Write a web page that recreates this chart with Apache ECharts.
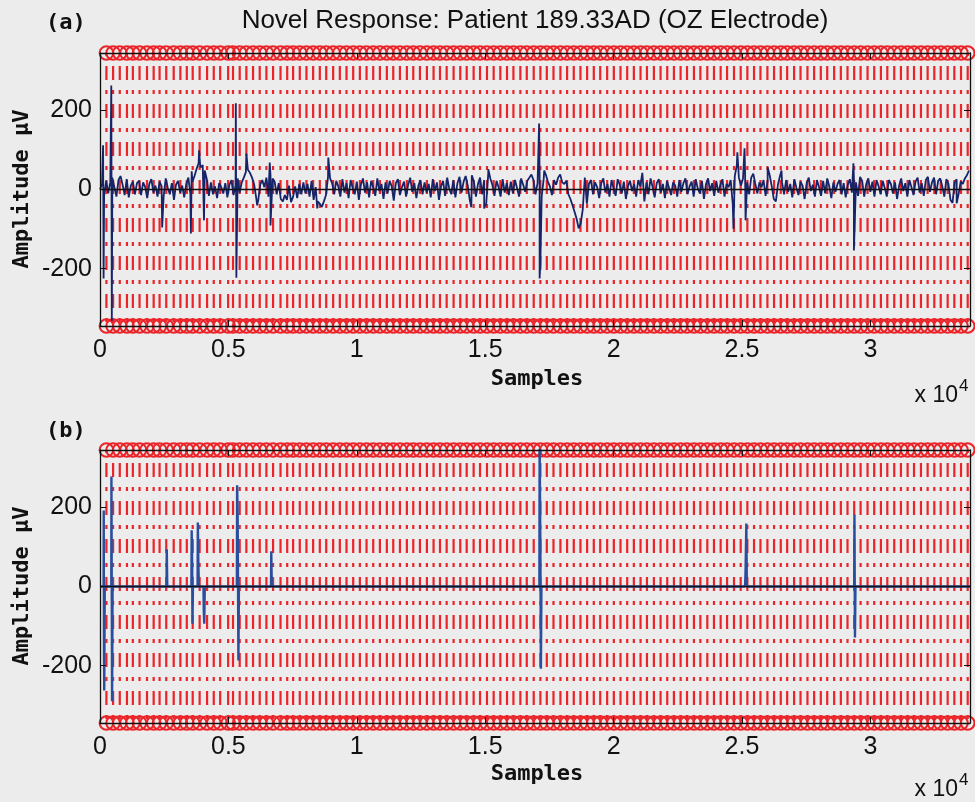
<!DOCTYPE html>
<html>
<head>
<meta charset="utf-8">
<script src="https://cdn.jsdelivr.net/npm/echarts@6/dist/echarts.min.js"></script>
<style>
  html, body { margin: 0; padding: 0; background: #ececec; }
  #chart { width: 975px; height: 802px; }
</style>
</head>
<body>
<div id="chart"></div>
<script>
// ---- data -----------------------------------------------------------------
// EEG trace (OZ), one value every SAMPLE_STEP samples, in microvolts
const SAMPLE_STEP = 80;
const eegBaseline = [
  0, 14, -16, 22, -10, 18, 30, 6, -18, 24, 34, 12, -14, 26, -20, 10, 20, -12, 16, 22,
  -14, 18, 6, -22, 14, 26, -8, 10, -18, 20, 8, -16, 28, 4, -12, 16, -26, 12, 22, -8,
  10, -20, 14, 30, -12, 20, 34, 52, 66, 56, 62, 48, 26, -16, 18, -12, 8, -22, 16, 6,
  -10, 16, -20, 12, 24, -14, 10, 28, -8, 18, 30, 44, 50, 42, 30, 14, -20, -28, 12, 24,
  6, 30, -18, 36, 28, 20, -12, 16, -24, -30, -14, -26, 10, -32, -18, 8, -22, 14, -12, 18,
  -10, 14, -18, 22, -26, 6, -30, -36, -44, -30, -14, 32, 28, 16, -12, 22, 8, -18, 26, -8,
  16, -22, 24, 4, -12, 20, -26, 12, 28, -8, 18, -20, 22, 6, -16, 28, -4, 14, -24, 18,
  -10, 22, 8, -28, 16, 26, -14, 6, 20, -18, 12, 30, -6, 16, -22, 10, 24, -12, 18, -8,
  14, -20, 26, -4, 18, -26, 8, 22, -16, 30, 2, -12, 24, -20, 16, 32, -8, 20, 34, 10,
  -26, 36, 20, -18, 14, 30, -12, 24, -36, 40, 28, 12, -16, 22, 6, -18, 26, -8, 16, -14,
  20, -10, 24, 4, -18, 28, 12, -6, 22, 30, 38, 24, -12, 16, 30, -18, 28, 38, 20, 8,
  -14, 24, 12, 30, 38, 18, 14, 22, -12, -24, -40, -56, -74, -98, -86, -50, 30, -36, 14, 24,
  -12, 18, 6, -22, 16, 28, -8, 14, -18, 24, 4, -16, 26, 12, -10, 20, -24, 8, 22, -4,
  14, -18, 24, 8, 42, -30, 18, -12, 28, 6, -20, 16, 26, -8, 14, -22, 22, 4, -14, 18,
  10, -18, 24, -6, 16, 28, -12, 8, 20, -18, 26, 2, -10, 22, -24, 14, 28, -4, 16, -16,
  22, -8, 12, 26, -18, 14, 6, 24, -36, 34, 62, 30, 10, 28, 46, 18, -12, 30, 40, 14,
  -10, 18, 6, 24, -16, 22, 36, 8, -24, -30, 12, 34, 18, -12, 24, -6, 14, -20, 26, 4,
  -14, 20, 10, -24, 16, 30, -4, 12, -18, 24, 6, -16, 22, -10, 28, 8, -22, 18, -6, 14,
  24, -12, 16, -20, 12, 26, -8, 28, 18, -16, 32, 22, -18, 14, 28, -6, 20, -18, 24, 8,
  -12, 22, 4, -18, 24, 14, -10, 18, -24, 10, 28, -4, 16, -18, 24, 6, -14, 20, 30, -8,
  16, -16, 24, 32, -6, 18, 30, -12, 22, 28, 8, -18, 26, 14, -26, -34, 18, 26, -10, 20,
  14, 28, 36, 48
];

// sharp transients in the raw trace: [sample, microvolts]
const eegTransients = [
  [120, 112], [140, -225],
  [440, 263], [460, -332],
  [2420, -96],
  [3540, -111], [3570, 46],
  [3860, 99], [3900, 62],
  [4050, -78],
  [5290, 218], [5310, -223],
  [5700, 91],
  [6120, -40],
  [6610, 68], [6640, -91],
  [8460, -48],
  [8890, 81],
  [14460, -45],
  [14960, -48],
  [15120, 51],
  [17100, 167], [17120, -225], [17150, -185],
  [17300, 48],
  [17970, 35],
  [19000, -40],
  [24670, -99],
  [24820, 94],
  [25100, 104], [25140, -78],
  [26000, 56],
  [26340, -35],
  [26540, 48],
  [29340, 66], [29360, -154],
  [33360, -35]
];

// detected novel responses: [sample, microvolts]
const novelResponse = [
  [0, 0], [140, 0], [145, 192], [155, -170], [165, -263], [185, 0],
  [440, 0], [445, 278], [470, -290], [490, 0],
  [2590, 0], [2600, 94], [2620, 0],
  [3560, 0], [3570, 142], [3590, 46], [3600, -94], [3620, 0],
  [3800, 0], [3810, 162], [3830, 61], [3850, 0],
  [4030, 0], [4040, -56], [4060, -94], [4080, 0],
  [5330, 0], [5340, 256], [5360, 185], [5390, -187], [5410, 0],
  [6660, 0], [6670, 89], [6690, 0],
  [17110, 0], [17120, 360], [17150, 91], [17170, -208], [17190, 0],
  [25120, 0], [25140, 40], [25170, 159], [25190, 0],
  [29370, 0], [29380, 182], [29400, -129], [29420, 0],
  [33880, 0]
];

// stimulus event markers (sample index)
const eventSamples = [
  250, 510, 770, 1050, 1280, 1540, 1830, 2090, 2320, 2580, 2870, 3130, 3380, 3610, 3880,
  4170, 4430, 4680, 4990, 5180, 5440, 5700, 5960, 6220, 6480, 6740, 7030, 7290, 7520, 7780,
  8040, 8300, 8560, 8810, 9080, 9340, 9600, 9860, 10120, 10380, 10640, 10900, 11170, 11420, 11680,
  11950, 12200, 12460, 12730, 12990, 13240, 13500, 13770, 14030, 14280, 14550, 14800, 15070, 15330, 15590,
  15850, 16100, 16370, 16620, 16890, 17150, 17400, 17660, 17930, 18190, 18450, 18710, 18970, 19230, 19480,
  19750, 20010, 20270, 20530, 20790, 21050, 21300, 21570, 21830, 22090, 22350, 22610, 22860, 23130, 23380,
  23650, 23910, 24170, 24420, 24690, 24950, 25210, 25470, 25720, 25990, 26250, 26510, 26760, 27030, 27280,
  27550, 27810, 28070, 28320, 28590, 28850, 29110, 29370, 29620, 29890, 30150, 30410, 30660, 30930, 31190,
  31450, 31700, 31970, 32230, 32490, 32740, 33010, 33270, 33530, 33790
];

const xTicks = [0, 5000, 10000, 15000, 20000, 25000, 30000];
const yTicks = [-200, 0, 200];
const X_MAX = 33880;
const Y_LIM = 345;

// ---- build ----------------------------------------------------------------
const traceA = eegBaseline.map((v, i) => [i * SAMPLE_STEP, v])
  .concat(eegTransients)
  .sort((a, b) => a[0] - b[0]);

const RED = '#ea2429';
const AXIS = '#111';
const LABEL_FONT = 'Liberation Sans, Arial, sans-serif';
const MONO_FONT = 'DejaVu Sans Mono, monospace';

function makeAxes(gridIndex) {
  const common = {
    type: 'value', gridIndex,
    axisLine: { show: true, onZero: false, lineStyle: { color: AXIS, width: 1.3 } },
    splitLine: { show: false }, z: 10
  };
  const xs = [
    Object.assign({}, common, {
      min: 0, max: X_MAX, position: 'bottom',
      axisTick: { show: true, inside: true, length: 6, customValues: xTicks, lineStyle: { color: AXIS } },
      axisLabel: {
        show: true, customValues: xTicks, margin: 12,
        formatter: v => String(v / 10000),
        color: '#111', fontSize: 25, fontFamily: LABEL_FONT
      }
    }),
    Object.assign({}, common, {
      min: 0, max: X_MAX, position: 'top',
      axisTick: { show: true, inside: true, length: 6, customValues: xTicks, lineStyle: { color: AXIS } },
      axisLabel: { show: false }
    })
  ];
  const ys = [
    Object.assign({}, common, {
      min: -Y_LIM, max: Y_LIM, position: 'left',
      axisTick: { show: true, inside: true, length: 6, customValues: yTicks, lineStyle: { color: AXIS } },
      axisLabel: {
        show: true, customValues: yTicks, margin: 8,
        color: '#111', fontSize: 25, fontFamily: LABEL_FONT
      }
    }),
    Object.assign({}, common, {
      min: -Y_LIM, max: Y_LIM, position: 'right',
      axisTick: { show: true, inside: true, length: 6, customValues: yTicks, lineStyle: { color: AXIS } },
      axisLabel: { show: false }
    })
  ];
  return { xs, ys };
}

function eventSeries(axisIdx) {
  return {
    type: 'custom',
    xAxisIndex: axisIdx, yAxisIndex: axisIdx,
    data: eventSamples.map(s => [s, 0]),
    silent: true, clip: false, z: 3,
    renderItem: (params, api) => {
      const top = api.coord([api.value(0), Y_LIM]);
      const bot = api.coord([api.value(0), -Y_LIM]);
      return {
        type: 'group',
        children: [
          {
            type: 'line',
            shape: { x1: top[0], y1: top[1], x2: bot[0], y2: bot[1] },
            style: { stroke: RED, lineWidth: 2.2, lineDash: [14, 10, 4, 10], lineDashOffset: 25 }
          },
          { type: 'circle', shape: { cx: top[0], cy: top[1], r: 6.8 }, style: { fill: 'none', stroke: RED, lineWidth: 2 } },
          { type: 'circle', shape: { cx: bot[0], cy: bot[1], r: 6.8 }, style: { fill: 'none', stroke: RED, lineWidth: 2 } }
        ]
      };
    }
  };
}

function zeroLine(axisIdx) {
  return {
    type: 'line', xAxisIndex: axisIdx, yAxisIndex: axisIdx,
    data: [[0, 0], [X_MAX, 0]], showSymbol: false, silent: true, z: 6,
    lineStyle: { color: '#111', width: 1.5 }
  };
}

const a = makeAxes(0);
const b = makeAxes(1);
const xAxes = [a.xs[0], b.xs[0], a.xs[1], b.xs[1]];
const yAxes = [a.ys[0], b.ys[0], a.ys[1], b.ys[1]];

const chart = echarts.init(document.getElementById('chart'), null, { renderer: 'canvas' });
chart.setOption({
  backgroundColor: '#ececec',
  animation: false,
  grid: [
    { left: 100, top: 53, width: 870, height: 273 },
    { left: 100, top: 450, width: 870, height: 273 }
  ],
  xAxis: xAxes,
  yAxis: yAxes,
  series: [
    eventSeries(0),
    {
      type: 'line', xAxisIndex: 0, yAxisIndex: 0, data: traceA,
      showSymbol: false, clip: true, z: 5, silent: true,
      lineStyle: { color: '#16256a', width: 1.8 }
    },
    zeroLine(0),
    eventSeries(1),
    {
      type: 'line', xAxisIndex: 1, yAxisIndex: 1, data: novelResponse,
      showSymbol: false, clip: true, z: 5, silent: true,
      lineStyle: { color: '#2a4e9e', width: 2.4 }
    },
    zeroLine(1)
  ],
  graphic: [
    { type: 'text', x: 535, y: 21, style: { text: 'Novel Response: Patient 189.33AD (OZ Electrode)', font: '26px ' + LABEL_FONT, fill: '#111', align: 'center', verticalAlign: 'middle' } },
    { type: 'text', x: 46, y: 23, style: { text: '(a)', font: 'bold 22px ' + MONO_FONT, fill: '#111', align: 'left', verticalAlign: 'middle' } },
    { type: 'text', x: 46, y: 431, style: { text: '(b)', font: 'bold 22px ' + MONO_FONT, fill: '#111', align: 'left', verticalAlign: 'middle' } },
    { type: 'text', x: 22, y: 189, rotation: Math.PI / 2, style: { text: 'Amplitude μV', font: 'bold 22px ' + MONO_FONT, fill: '#111', align: 'center', verticalAlign: 'middle' } },
    { type: 'text', x: 22, y: 586, rotation: Math.PI / 2, style: { text: 'Amplitude μV', font: 'bold 22px ' + MONO_FONT, fill: '#111', align: 'center', verticalAlign: 'middle' } },
    { type: 'text', x: 537, y: 379, style: { text: 'Samples', font: 'bold 22px ' + MONO_FONT, fill: '#111', align: 'center', verticalAlign: 'middle' } },
    { type: 'text', x: 537, y: 774, style: { text: 'Samples', font: 'bold 22px ' + MONO_FONT, fill: '#111', align: 'center', verticalAlign: 'middle' } },
    { type: 'text', x: 958, y: 396, style: { text: 'x 10', font: '23px ' + LABEL_FONT, fill: '#111', align: 'right', verticalAlign: 'middle' } },
    { type: 'text', x: 959, y: 386, style: { text: '4', font: '17px ' + LABEL_FONT, fill: '#111', align: 'left', verticalAlign: 'middle' } },
    { type: 'text', x: 958, y: 790, style: { text: 'x 10', font: '23px ' + LABEL_FONT, fill: '#111', align: 'right', verticalAlign: 'middle' } },
    { type: 'text', x: 959, y: 780, style: { text: '4', font: '17px ' + LABEL_FONT, fill: '#111', align: 'left', verticalAlign: 'middle' } }
  ]
});
</script>
</body>
</html>
